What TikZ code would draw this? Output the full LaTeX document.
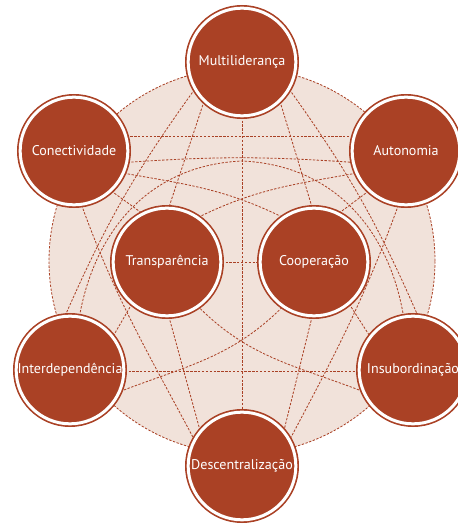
\documentclass[tikz,border=0pt]{standalone}
\usepackage{fontspec}
\setmainfont{PT Sans}
\usetikzlibrary{backgrounds}
\definecolor{rust}{RGB}{170,65,37}
\definecolor{blush}{RGB}{241,226,218}

\begin{document}
\begin{tikzpicture}[x=0.03cm, y=0.03cm,
		valor/.style={circle, minimum size=3.23cm, inner sep=0pt, fill=rust, draw=rust,
			line width=0.05cm, double=white, double distance=0.09cm,
			text=white, font=\fontsize{12}{14}\selectfont},
		elo/.style={draw=rust, line width=0.7pt, dash pattern=on 2pt off 1.3pt}]
		%%%%% START %%%%%
		\useasboundingbox (0,0) rectangle (458,527);
		\clip (0,0) rectangle (458,527);
		
		\node[valor] (multi) at (242,465) {Multiliderança};
		\node[valor] (conect) at (74,376) {Conectividade};
		\node[valor] (auton) at (406,376) {Autonomia};
		\node[valor] (transp) at (167,265) {Transparência};
		\node[valor] (coop) at (314,265) {Cooperação};
		\node[valor] (interd) at (70,157) {Interdependência};
		\node[valor] (insub) at (413,157) {Insubordinação};
		\node[valor] (descen) at (242,61) {Descentralização};
		
		\begin{pgfonlayer}{background}
			\draw[elo, fill=blush] (242,266) circle (5.79cm);
			
			% horizontais e vertical
			\draw[elo] (conect.16) -- (auton.164);
			\draw[elo] (conect.348) to[bend left=4] (auton.192);
			\draw[elo] (interd.358) -- (insub.182);
			\draw[elo] (transp.0) -- (coop.180);
			\draw[elo] (multi.270) -- (descen.90);
			
			% arco maior
			\draw[elo] (interd.80) .. controls (95,297) and (150,362) .. (242,366)
				.. controls (334,362) and (389,297) .. (insub.100);
			
			% a partir do topo
			\draw[elo] (multi.226) -- (transp.88);
			\draw[elo] (multi.314) -- (coop.92);
			\draw[elo] (multi.210) to[bend right=6] (interd.95);
			\draw[elo] (multi.330) to[bend left=6] (insub.85);
			
			% cruzamentos
			\draw[elo] (conect.336) to[out=-10, in=154] (coop.125);
			\draw[elo] (auton.204) to[out=190, in=26] (transp.55);
			\draw[elo] (interd.337) to[out=21, in=225] (coop.235);
			\draw[elo] (insub.203) to[out=159, in=-45] (transp.305);
			
			% a partir da base
			\draw[elo] (conect.278) to[out=-70, in=118] (descen.151);
			\draw[elo] (auton.262) to[out=250, in=62] (descen.29);
			\draw[elo] (transp.272) -- (descen.140);
			\draw[elo] (coop.268) -- (descen.40);
			
			% curtos
			\draw[elo] (conect.313) -- (transp.117);
			\draw[elo] (auton.227) -- (coop.63);
			\draw[elo] (transp.230) -- (interd.38);
			\draw[elo] (coop.310) -- (insub.142);
		\end{pgfonlayer}
		%%%%% END %%%%%
	\end{tikzpicture}
\end{document}
